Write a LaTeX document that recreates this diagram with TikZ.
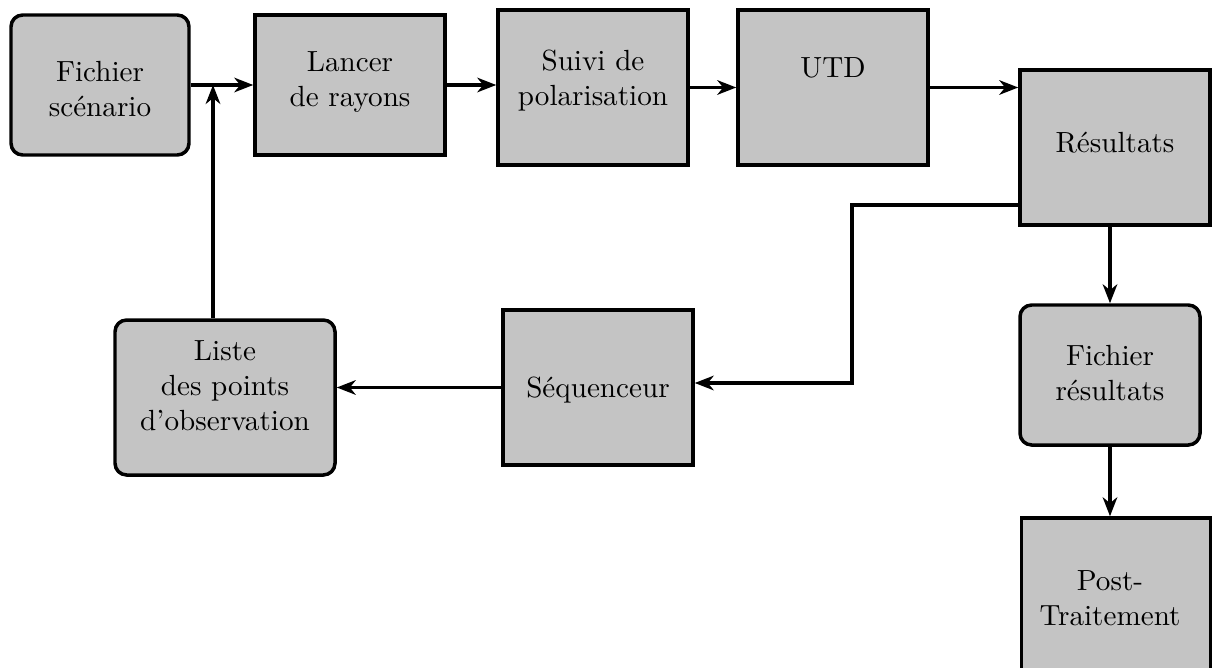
\documentclass[tikz,border=0pt]{standalone}
\usetikzlibrary{arrows.meta}
\definecolor{boxgray}{RGB}{196,196,196}
\def\pxu{0.343pt}
\tikzset{
  x=0.343pt, y=-0.343pt,
  box/.style={draw=black, fill=boxgray, line width=1.2pt, inner sep=0pt, rectangle},
  rbox/.style={box, rounded corners=4pt},
  txt/.style={align=center, inner sep=0pt, font=\normalsize},
  arr/.style={line width=1.05pt, -{Stealth[length=6.5pt,width=5pt,inset=2pt]}},
}
\begin{document}
\begin{tikzpicture}
\useasboundingbox (0,0) rectangle (1212,668);
% boxes
\node[rbox, minimum width=178*\pxu, minimum height=140*\pxu] (fs) at (100,85) {};
\node[box, minimum width=190*\pxu, minimum height=140*\pxu] (lr) at (350,85) {};
\node[box, minimum width=190*\pxu, minimum height=155*\pxu] (sp) at (593,87.5) {};
\node[box, minimum width=190*\pxu, minimum height=155*\pxu] (utd) at (833,87.5) {};
\node[box, minimum width=190*\pxu, minimum height=155*\pxu] (res) at (1115,147.5) {};
\node[rbox, minimum width=180*\pxu, minimum height=140*\pxu] (fr) at (1110,375) {};
\node[box, minimum width=189*\pxu, minimum height=165*\pxu] (pt) at (1116,600.5) {};
\node[box, minimum width=190*\pxu, minimum height=155*\pxu] (seq) at (598,387.5) {};
\node[rbox, minimum width=220*\pxu, minimum height=155*\pxu] (liste) at (225,397.5) {};
% texts
\node[txt] (tfs) at (100,89) {Fichier\\sc\'enario};
\node[txt] (tlr) at (350,82) {Lancer\\de rayons};
\node[txt] (tsp) at (593,81) {Suivi de\\polarisation};
\node[txt] (tutd) at (833,68) {UTD};
\node[txt] (tres) at (1115,143) {R\'esultats};
\node[txt] (tfr) at (1110,373) {Fichier\\r\'esultats};
\node[txt] (tpt) at (1110,598) {Post-\\Traitement};
\node[txt] (tseq) at (598,390) {S\'equenceur};
\node[txt] (tliste) at (225,386) {Liste\\des points\\d'observation};
% connectors
\coordinate (j) at (213,85);
\coordinate (k1) at (852,205);
\coordinate (k2) at (852,383);
\draw[arr] (fs.east) -- (lr.west);
\draw[arr] (liste.north -| j) -- (j);
\draw[arr] (lr.east) -- (sp.west |- lr.east);
\draw[arr] (sp.east) -- (utd.west);
\draw[arr] (utd.east) -- (res.west |- utd.east);
\draw[arr] (res.south -| fr.north) -- (fr.north);
\draw[arr] (fr.south) -- (fr.south |- pt.north);
\draw[arr] (res.west |- k1) -- (k1) -- (k2) -- (seq.east |- k2);
\draw[arr] (seq.west) -- (liste.east |- seq.west);
\end{tikzpicture}
\end{document}
